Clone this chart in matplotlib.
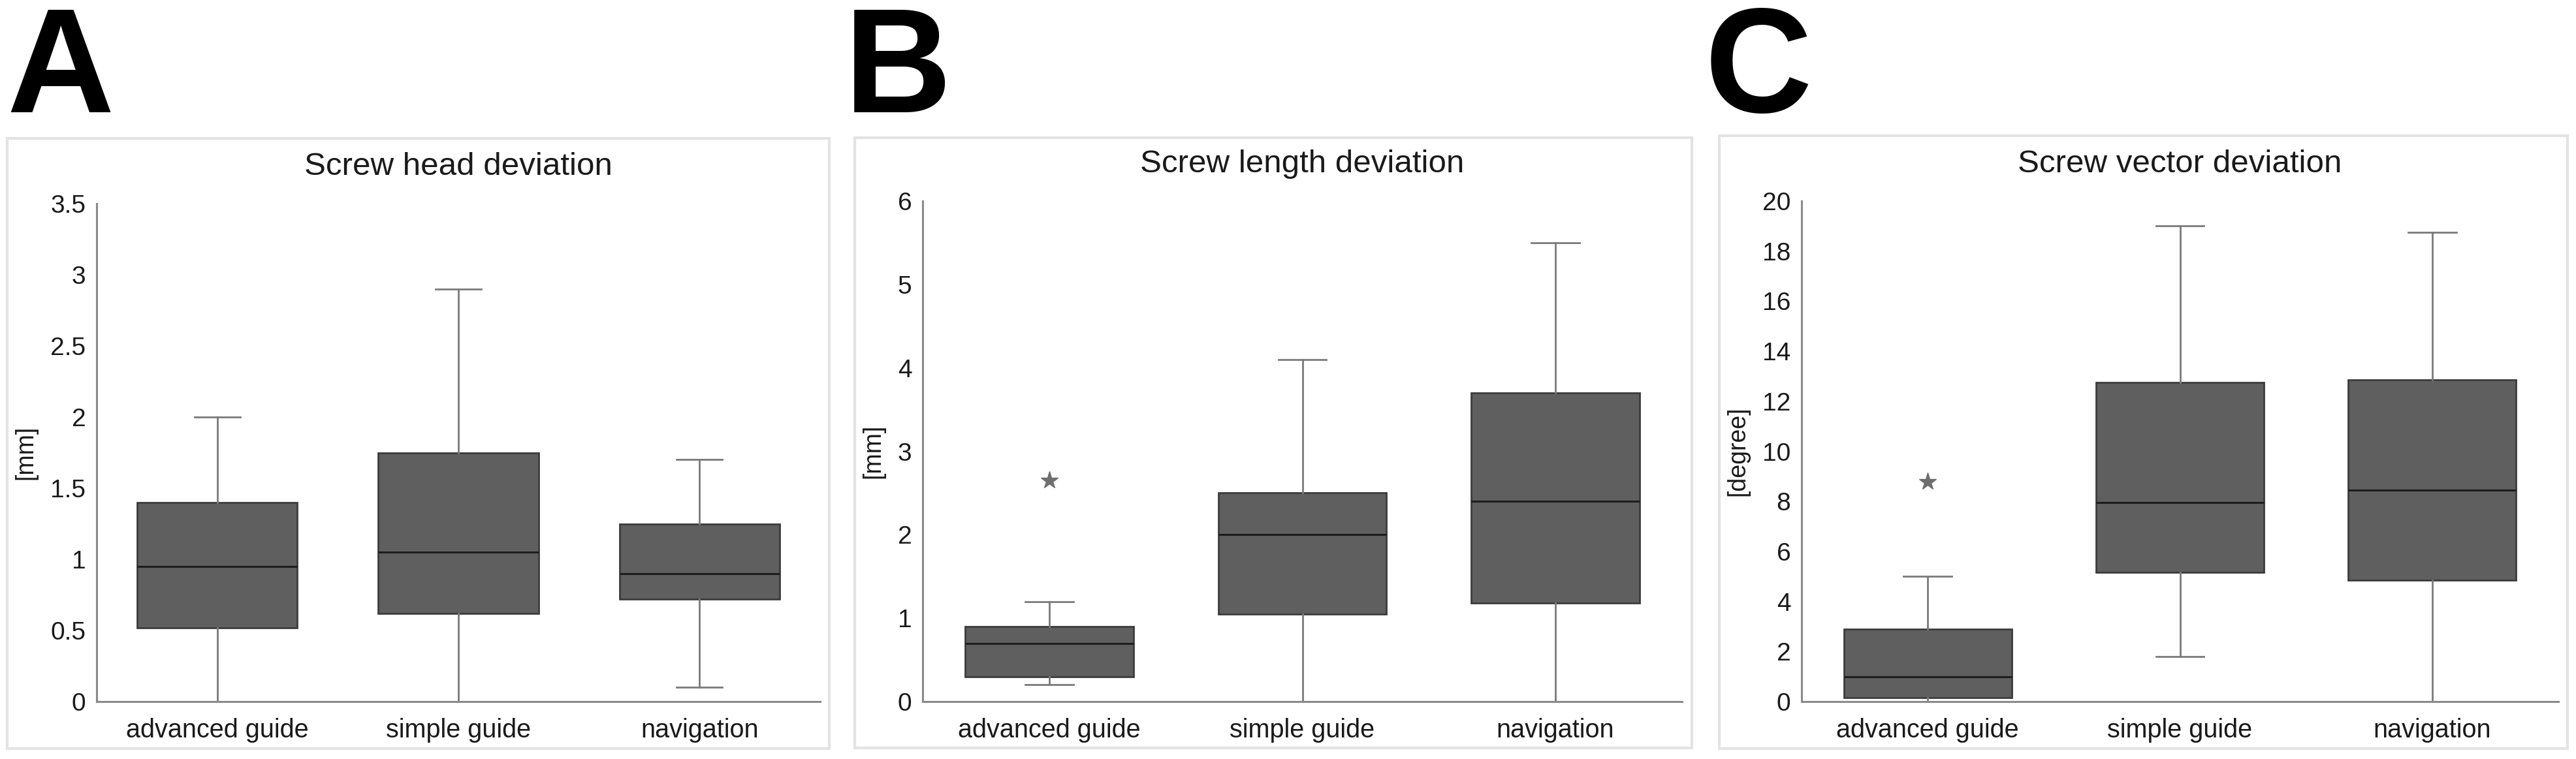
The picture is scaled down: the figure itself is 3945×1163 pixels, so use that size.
import matplotlib
matplotlib.use("Agg")
import matplotlib.pyplot as plt
from matplotlib.patches import Rectangle

plt.rcParams['font.family'] = ['Liberation Sans', 'DejaVu Sans']

# Data
categories = ["advanced guide", "simple guide", "navigation"]

# Screw head deviation [mm]
head_whislo = [0.0, 0.0, 0.1]
head_q1 = [0.52, 0.62, 0.72]
head_med = [0.95, 1.05, 0.90]
head_q3 = [1.40, 1.75, 1.25]
head_whishi = [2.0, 2.9, 1.7]
head_fliers = [[], [], []]

# Screw length deviation [mm]
length_whislo = [0.2, 0.0, 0.0]
length_q1 = [0.30, 1.05, 1.18]
length_med = [0.70, 2.00, 2.40]
length_q3 = [0.90, 2.50, 3.70]
length_whishi = [1.2, 4.1, 5.5]
length_fliers = [[2.65], [], []]

# Screw vector deviation [degree]
vector_whislo = [0.0, 1.8, 0.0]
vector_q1 = [0.15, 5.15, 4.85]
vector_med = [1.0, 7.95, 8.45]
vector_q3 = [2.9, 12.75, 12.85]
vector_whishi = [5.0, 19.0, 18.75]
vector_fliers = [[8.8], [], []]

W, H = 3945, 1163
fig = plt.figure(figsize=(W / 100, H / 100), dpi=100)
fig.patch.set_facecolor('white')


def make_stats(whislo, q1, med, q3, whishi, fliers):
    stats = []
    for i in range(len(categories)):
        stats.append({'label': categories[i], 'whislo': whislo[i], 'q1': q1[i],
                      'med': med[i], 'q3': q3[i], 'whishi': whishi[i],
                      'fliers': fliers[i]})
    return stats


def px_axes(x0, x1, y0, y1):
    # pixel box (top-left origin) -> figure fraction axes
    return fig.add_axes([x0 / W, 1 - y1 / H, (x1 - x0) / W, (y1 - y0) / H])


def panel_frame(x0, y0, x1, y1):
    fig.patches.append(Rectangle((x0 / W, 1 - y1 / H), (x1 - x0) / W, (y1 - y0) / H,
                                 transform=fig.transFigure, fill=False,
                                 edgecolor='#e3e3e3', linewidth=3, zorder=0))


def draw_panel(ax, stats, title, ylabel, ymax, ystep):
    ax.bxp(stats, positions=[1, 2, 3], widths=0.665, capwidths=0.19,
           patch_artist=True, showfliers=True,
           boxprops=dict(facecolor='#5f5f5f', edgecolor='#3c3c3c', linewidth=2),
           medianprops=dict(color='#1e1e1e', linewidth=2.2),
           whiskerprops=dict(color='#7a7a7a', linewidth=2),
           capprops=dict(color='#7a7a7a', linewidth=2),
           flierprops=dict(marker='*', markersize=20, markerfacecolor='#6e6e6e',
                           markeredgecolor='#6e6e6e'))
    ax.set_xlim(0.5, 3.5)
    ax.set_ylim(0, ymax)
    ticks = [i * ystep for i in range(int(round(ymax / ystep)) + 1)]
    ax.set_yticks(ticks)
    ax.set_yticklabels(['{:g}'.format(t) for t in ticks])
    ax.set_xticks([1, 2, 3])
    ax.set_xticklabels(categories)
    for s in ['top', 'right']:
        ax.spines[s].set_visible(False)
    for s in ['left', 'bottom']:
        ax.spines[s].set_color('#8a8a8a')
        ax.spines[s].set_linewidth(2.2)
    ax.tick_params(axis='both', length=0, colors='#1a1a1a')
    ax.tick_params(axis='y', pad=12, labelsize=28)
    ax.tick_params(axis='x', pad=18, labelsize=28.5)
    ax.set_ylabel(ylabel, fontsize=27, color='#1a1a1a', labelpad=14)
    ax.set_title(title, fontsize=35.5, color='#1a1a1a', pad=32)
    ax.set_facecolor('none')


panel_frame(11, 212, 1270, 1147)
panel_frame(1309, 211, 2591, 1146)
panel_frame(2633, 208, 3932, 1147)

ax_a = px_axes(148, 1256, 312, 1075)
ax_b = px_axes(1413, 2576, 308, 1075)
ax_c = px_axes(2759, 3918, 308, 1075)

draw_panel(ax_a, make_stats(head_whislo, head_q1, head_med, head_q3, head_whishi, head_fliers),
           "Screw head deviation", "[mm]", 3.5, 0.5)
draw_panel(ax_b, make_stats(length_whislo, length_q1, length_med, length_q3, length_whishi, length_fliers),
           "Screw length deviation", "[mm]", 6, 1)
draw_panel(ax_c, make_stats(vector_whislo, vector_q1, vector_med, vector_q3, vector_whishi, vector_fliers),
           "Screw vector deviation", "[degree]", 20, 2)

# panel letters
for letter, xpx in [("A", 10), ("B", 1293), ("C", 2611)]:
    fig.text(xpx / W, 1 - 172 / H, letter, fontsize=164, fontweight='bold',
             color='black', ha='left', va='baseline')

fig.savefig("out.png", dpi=100, facecolor='white')
